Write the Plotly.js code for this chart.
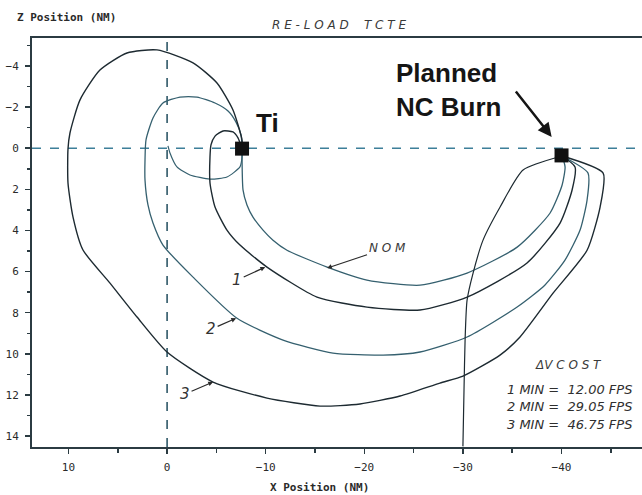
<!DOCTYPE html>
<html>
<head>
<meta charset="utf-8">
<script src="https://cdn.plot.ly/plotly-3.0.1.min.js"></script>
<style>
html,body{margin:0;padding:0;background:#fff;overflow:hidden;}
#chart{width:642px;height:495px;}
</style>
</head>
<body>
<div id="chart"></div>
<script>
// ---- data (X Position, Z Position in NM) ----
var nomX = [-7.6, -7.6, -7.7, -8.1, -8.71, -9.73, -10.74, -12.16, -16.23, -20.27, -25.65, -30.42, -35.5, -38.84, -40.06, -40.36, -40.06];
var nomZ = [0.04, 0.43, 2.03, 2.76, 3.35, 3.98, 4.47, 4.96, 5.78, 6.41, 6.66, 6.07, 4.81, 3.15, 1.79, 0.91, 0.38];

var min1X = [-7.6, -7.19, -6.68, -5.67, -4.86, -4.45, -4.35, -4.35, -4.86, -6.07, -7.39, -10.13, -15.2, -20.27, -25.65, -30.42, -36.5, -39.85, -41.07, -41.37, -40.06];
var min1Z = [0.04, -0.5, -0.79, -0.84, -0.59, -0.16, 0.43, 1.69, 2.86, 3.98, 4.71, 5.78, 7.24, 7.73, 7.87, 7.24, 5.58, 3.64, 2.03, 0.91, 0.38];

var min2X = [-7.6, -7.5, -6.99, -6.18, -4.86, -3.03, -1.31, 0.42, 1.43, 2.14, 2.24, 2.24, 1.94, 1.43, 0.42, -2.63, -7.09, -11.76, -16.82, -21.9, -25.65, -30.42, -35.5, -38.3, -40.35, -41.88, -42.59, -42.69, -40.06];
var min2Z = [0.04, -0.64, -1.27, -1.81, -2.2, -2.49, -2.49, -2.2, -1.47, -0.4, 0.57, 1.55, 2.76, 3.64, 4.71, 6.27, 8.27, 9.33, 9.96, 10.06, 9.91, 9.18, 7.72, 6.66, 5.44, 3.98, 2.52, 1.21, 0.38];

var min3X = [-7.6, -7.6, -6.68, -5.06, -2.63, 1.02, 4.07, 6.81, 8.84, 9.85, 10.05, 10.05, 9.54, 8.53, 5.79, 3.05, 0.01, -4.66, -10.13, -15.51, -19.56, -23.62, -27.67, -30.01, -33.76, -35.79, -39.14, -42.59, -43.91, -44.22, -40.06];
var min3Z = [0.04, -0.4, -1.86, -3.17, -4.15, -4.78, -4.63, -3.8, -2.34, -0.74, 0.04, 1.69, 3.35, 4.95, 6.56, 8.21, 9.91, 11.37, 12.15, 12.54, 12.44, 12.05, 11.42, 11.08, 10.06, 9.18, 7.05, 4.96, 2.86, 1.21, 0.38];

var innerX = [-0.09, -0.29, -1.0, -2.32, -4.35, -6.07, -7.39, -7.6, -7.6];
var innerZ = [-0.11, 0.23, 0.91, 1.3, 1.5, 1.4, 0.91, 0.43, 0.04];

var dropX = [-40.06, -36.1, -33.77, -32.04, -31.03, -30.42, -30.22, -30.11, -30.0];
var dropZ = [0.38, 1.06, 2.86, 4.47, 6.07, 7.39, 9.33, 11.76, 14.5];

var pointNames = ["Ti", "Planned NC Burn"];
var pointX = [-7.6, -40.0];
var pointZ = [0.02, 0.35];

var xTickVals = [10, 0, -10, -20, -30, -40];
var zTickVals = [-4, -2, 0, 2, 4, 6, 8, 10, 12, 14];

var costLabels = ["1 MIN =  12.00 FPS", "2 MIN =  29.05 FPS", "3 MIN =  46.75 FPS"];

// ---- styles ----
var dark = "#1d2a31";
var teal = "#35606f";
function line(x, y, name, color, w) {
  return {x: x, y: y, name: name, type: "scatter", mode: "lines",
          line: {color: color, width: w, shape: "spline", smoothing: 0.6},
          hoverinfo: "skip", showlegend: false};
}
var traces = [
  line(innerX, innerZ, "inner", teal, 1.2),
  line(nomX, nomZ, "NOM", teal, 1.3),
  line(min1X, min1Z, "1 min", dark, 1.4),
  line(min2X, min2Z, "2 min", teal, 1.3),
  line(min3X, min3Z, "3 min", dark, 1.4),
  line(dropX, dropZ, "drop", dark, 1.2),
  {x: pointX, y: pointZ, text: pointNames, type: "scatter", mode: "markers",
   marker: {symbol: "square", size: 14, color: "#111"}, showlegend: false, hoverinfo: "text"}
];

var axFont = {family: "DejaVu Sans Mono", size: 11, color: "#2a2a2a"};
var hand = {family: "DejaVu Sans", size: 12, color: "#3a3a3a"};
var bold = {family: "Liberation Sans, Arial", size: 26, color: "#151515"};
var numFont = {family: "DejaVu Sans", size: 15, color: "#333"};
var arrowStyle = {showarrow: true, arrowhead: 2, arrowsize: 0.8, arrowwidth: 1.2, arrowcolor: "#2a2a2a"};
function withArrow(o) { for (var k in arrowStyle) o[k] = arrowStyle[k]; return o; }

var ann = [
  {xref: "paper", yref: "paper", x: -0.028, y: 1.05, xanchor: "left", yanchor: "middle",
   text: "<b>Z Position (NM)</b>", showarrow: false, font: axFont},
  {xref: "paper", yref: "paper", x: 0.472, y: -0.098, xanchor: "center", yanchor: "middle",
   text: "<b>X Position (NM)</b>", showarrow: false, font: axFont},
  {xref: "paper", yref: "paper", x: 0.39, y: 1.032, xanchor: "left", yanchor: "middle",
   text: "<i>R E - L O A D    T C T E</i>", showarrow: false, font: hand},
  {xref: "x", yref: "y", x: pointX[0], y: pointZ[0], ax: 25, ay: -26, text: "<b>Ti</b>",
   showarrow: true, arrowcolor: "rgba(0,0,0,0)", font: bold},
  {xref: "paper", yref: "paper", x: 0.594, y: 0.872, xanchor: "left", yanchor: "middle", align: "left",
   text: "<b>Planned<br>NC Burn</b>", showarrow: false, font: bold},
  {xref: "x", yref: "y", x: -39.0, y: -0.55, ax: -37, ay: -47, text: "",
   showarrow: true, arrowhead: 2, arrowsize: 1.1, arrowwidth: 2.5, arrowcolor: "#151515"},
  withArrow({xref: "x", yref: "y", x: -16.22, y: 5.83, ax: 60, ay: -20, text: "<i>N O M</i>", font: hand}),
  withArrow({xref: "x", yref: "y", x: -9.95, y: 5.78, ax: -28, ay: 13, text: "<i>1</i>", font: numFont}),
  withArrow({xref: "x", yref: "y", x: -7.0, y: 8.27, ax: -25, ay: 11, text: "<i>2</i>", font: numFont}),
  withArrow({xref: "x", yref: "y", x: -4.66, y: 11.37, ax: -28, ay: 12, text: "<i>3</i>", font: numFont}),
  {xref: "paper", yref: "paper", x: (533 - 32) / 610, y: (447 - 365) / 409, xanchor: "left", yanchor: "middle",
   text: "<i>\u0394V C O S T</i>", showarrow: false, font: {family: hand.family, size: 12, color: "#3a3a3a"}}
];
var costY = [389, 406, 424];
for (var i = 0; i < costLabels.length; i++) {
  ann.push({xref: "paper", yref: "paper", x: (505 - 32) / 610, y: (447 - costY[i]) / 409,
    xanchor: "left", yanchor: "middle", text: "<i>" + costLabels[i] + "</i>", showarrow: false,
    font: {family: hand.family, size: 13, color: "#2f2f2f"}});
}

var layout = {
  width: 642, height: 495,
  margin: {l: 32, r: 0, t: 38, b: 48, pad: 0},
  paper_bgcolor: "#ffffff", plot_bgcolor: "#ffffff",
  showlegend: false,
  xaxis: {range: [13.7, -48.16], tickvals: xTickVals, ticks: "outside", ticklen: 5, tickwidth: 1.5,
          tickcolor: "#2b3b42", showline: true, linecolor: "#2b3b42", linewidth: 2, mirror: true,
          showgrid: false, zeroline: false, tickfont: axFont, ticklabelstandoff: 4,
          minor: {dtick: 5, tick0: 0, ticks: "outside", ticklen: 4, tickcolor: "#2b3b42", showgrid: false}},
  yaxis: {range: [14.53, -5.36], tickvals: zTickVals, ticks: "outside", ticklen: 5, tickwidth: 1.5,
          tickcolor: "#2b3b42", showline: true, linecolor: "#2b3b42", linewidth: 2,
          showgrid: false, zeroline: false, tickfont: axFont, ticklabelstandoff: 4,
          minor: {dtick: 1, tick0: 0, ticks: "outside", ticklen: 3, tickcolor: "#2b3b42", showgrid: false}},
  shapes: [
    {type: "line", xref: "paper", yref: "y", x0: 0, x1: 1, y0: 0, y1: 0,
     line: {color: "#3d7f99", width: 1.6, dash: "dash"}, layer: "below"},
    {type: "line", xref: "x", yref: "paper", x0: 0, x1: 0, y0: 0, y1: 1,
     line: {color: "#2f5868", width: 1.6, dash: "dash"}, layer: "below"}
  ],
  annotations: ann
};

Plotly.newPlot("chart", traces, layout, {displayModeBar: false, staticPlot: true});
</script>
</body>
</html>
